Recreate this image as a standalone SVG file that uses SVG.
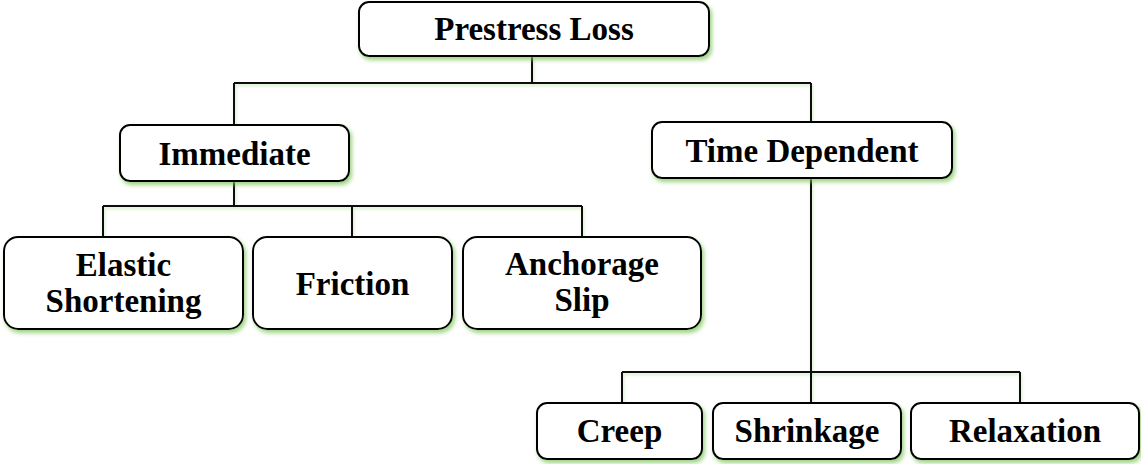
<svg xmlns="http://www.w3.org/2000/svg" width="1141" height="464" viewBox="0 0 1141 464">
<style>
.box{fill:#fff;stroke:#000;stroke-width:2}
.lbl{font-family:"Liberation Serif","Times New Roman",serif;font-weight:bold;font-size:33px;fill:#000;text-anchor:middle}
.ln{fill:none;stroke:#111;stroke-width:2}
</style>
<defs>
<filter id="sh" x="-10%" y="-20%" width="125%" height="150%">
<feDropShadow dx="2" dy="3" stdDeviation="2" flood-color="#7cc45a" flood-opacity="0.75"/>
</filter>
<filter id="lsh" x="-10%" y="-50%" width="120%" height="200%">
<feDropShadow dx="1" dy="2" stdDeviation="1.5" flood-color="#9dd47e" flood-opacity="0.5"/>
</filter>
</defs>
<rect width="1141" height="464" fill="#fff"/>
<g id="connectors" filter="url(#lsh)">
<path class="ln" d="M532,56 V83 M234,83 H811 M234,83 V124 M811,83 V123"/>
<path class="ln" d="M234,181 V206 M103,206 H582 M103,206 V237 M352,206 V237 M582,206 V237"/>
<path class="ln" d="M811,178 V403 M622,372 H1020 M622,372 V403 M1020,372 V403"/>
</g>
<g id="prestress-loss"><rect class="box" filter="url(#sh)" x="359" y="2" width="350" height="54" rx="10"/><text class="lbl" x="534" y="40">Prestress Loss</text></g>
<g id="immediate"><rect class="box" filter="url(#sh)" x="120" y="125" width="229" height="56" rx="10"/><text class="lbl" x="234.5" y="165">Immediate</text></g>
<g id="time-dependent"><rect class="box" filter="url(#sh)" x="652" y="122" width="300" height="56" rx="10"/><text class="lbl" x="802" y="162">Time Dependent</text></g>
<g id="elastic-shortening"><rect class="box" filter="url(#sh)" x="4" y="237" width="239" height="92" rx="14"/><text class="lbl" x="123.5" y="276">Elastic</text><text class="lbl" x="123.5" y="312">Shortening</text></g>
<g id="friction"><rect class="box" filter="url(#sh)" x="253" y="237" width="199" height="92" rx="14"/><text class="lbl" x="352.5" y="295">Friction</text></g>
<g id="anchorage-slip"><rect class="box" filter="url(#sh)" x="463" y="237" width="238" height="92" rx="14"/><text class="lbl" x="582" y="275">Anchorage</text><text class="lbl" x="582" y="311">Slip</text></g>
<g id="creep"><rect class="box" filter="url(#sh)" x="537" y="403" width="165" height="56" rx="10"/><text class="lbl" x="619.5" y="442">Creep</text></g>
<g id="shrinkage"><rect class="box" filter="url(#sh)" x="713" y="403" width="188" height="56" rx="10"/><text class="lbl" x="807" y="442">Shrinkage</text></g>
<g id="relaxation"><rect class="box" filter="url(#sh)" x="911" y="403" width="228" height="56" rx="10"/><text class="lbl" x="1025" y="442">Relaxation</text></g>
</svg>
